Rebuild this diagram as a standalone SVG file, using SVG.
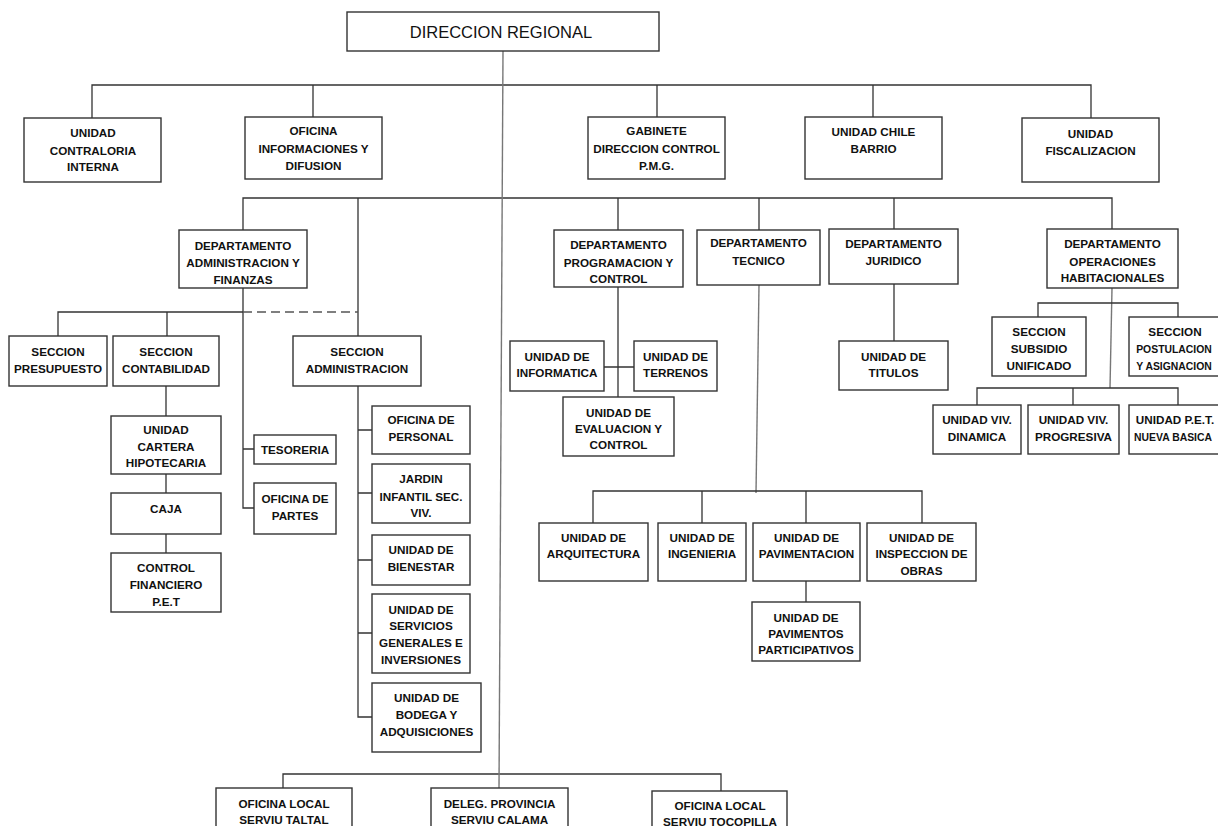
<svg xmlns="http://www.w3.org/2000/svg" width="1218" height="826" viewBox="0 0 1218 826">
<style>
.b{fill:#fff;stroke:#333;stroke-width:1.4}
.t{font-family:"Liberation Sans",Arial,sans-serif;font-weight:bold;font-size:11.7px;text-anchor:middle;fill:#111}
.s{font-size:10.4px}
.h{font-family:"Liberation Sans",Arial,sans-serif;font-size:16.5px;text-anchor:middle;fill:#111}
.c{stroke:#333;stroke-width:1.3;fill:none}
.g{stroke:#777;stroke-width:1.4;fill:none}
.d{stroke:#555;stroke-width:1.5;fill:none;stroke-dasharray:9 5}
</style>
<rect width="1218" height="826" fill="#fff"/>
<g id="connectors">
<path class="c" d="M92 118V85H1091V118M313 85V117M657 85V117M873 85V117"/>
<path class="c" d="M243 230V198H1112V229M358 198V336M618 198V230M759 198V230M894 198V229"/>
<path class="c" d="M243 288V508H254M243 449H254M58 336V312H243M167 312V336"/>
<path class="d" d="M243 312H358"/>
<path class="c" d="M166 386V416M166 474V493M166 534V553"/>
<path class="c" d="M358 386V717H372M358 430H372M358 493H372M358 560H372M358 633H372"/>
<path class="c" d="M618 287V397M604 367H634"/>
<path class="g" d="M759 285L756 493"/>
<path class="c" d="M593 523V491H922V523M702 491V523M806 491V523M806 581V602"/>
<path class="c" d="M894 284V341"/>
<path class="g" d="M1112 288L1110 388"/>
<path class="c" d="M1038 317V303H1178V317M977 405V388H1178V405M1073 388V405"/>
<path class="c" d="M283 788V774H721V791"/>
<path class="g" d="M503 51L499 788"/>
</g>
<g id="n-direccion"><rect class="b" x="347" y="12" width="312" height="39"/><text class="h" x="501" y="38">DIRECCION REGIONAL</text></g>
<g id="n-contraloria"><rect class="b" x="24" y="118" width="137" height="64"/><text class="t"><tspan x="93" y="137">UNIDAD</tspan><tspan x="93" y="155">CONTRALORIA</tspan><tspan x="93" y="171">INTERNA</tspan></text></g>
<g id="n-informaciones"><rect class="b" x="245" y="117" width="137" height="62"/><text class="t"><tspan x="313.5" y="135">OFICINA</tspan><tspan x="313.5" y="153">INFORMACIONES Y</tspan><tspan x="313.5" y="170">DIFUSION</tspan></text></g>
<g id="n-gabinete"><rect class="b" x="588" y="117" width="137" height="62"/><text class="t"><tspan x="656.5" y="135">GABINETE</tspan><tspan x="656.5" y="153">DIRECCION CONTROL</tspan><tspan x="656.5" y="170">P.M.G.</tspan></text></g>
<g id="n-chilebarrio"><rect class="b" x="805" y="117" width="137" height="62"/><text class="t"><tspan x="873.5" y="136">UNIDAD CHILE</tspan><tspan x="873.5" y="153">BARRIO</tspan></text></g>
<g id="n-fiscalizacion"><rect class="b" x="1022" y="118" width="137" height="64"/><text class="t"><tspan x="1090.5" y="138">UNIDAD</tspan><tspan x="1090.5" y="155">FISCALIZACION</tspan></text></g>
<g id="n-dafin"><rect class="b" x="179" y="230" width="128" height="58"/><text class="t"><tspan x="243" y="250">DEPARTAMENTO</tspan><tspan x="243" y="267">ADMINISTRACION Y</tspan><tspan x="243" y="284">FINANZAS</tspan></text></g>
<g id="n-dprog"><rect class="b" x="554" y="230" width="129" height="57"/><text class="t"><tspan x="618.5" y="249">DEPARTAMENTO</tspan><tspan x="618.5" y="267">PROGRAMACION Y</tspan><tspan x="618.5" y="283">CONTROL</tspan></text></g>
<g id="n-dtecnico"><rect class="b" x="697" y="230" width="123" height="55"/><text class="t"><tspan x="758.5" y="247">DEPARTAMENTO</tspan><tspan x="758.5" y="265">TECNICO</tspan></text></g>
<g id="n-djuridico"><rect class="b" x="829" y="229" width="129" height="55"/><text class="t"><tspan x="893.5" y="248">DEPARTAMENTO</tspan><tspan x="893.5" y="265">JURIDICO</tspan></text></g>
<g id="n-doper"><rect class="b" x="1047" y="229" width="131" height="59"/><text class="t"><tspan x="1112.5" y="248">DEPARTAMENTO</tspan><tspan x="1112.5" y="266">OPERACIONES</tspan><tspan x="1112.5" y="282">HABITACIONALES</tspan></text></g>
<g id="n-presupuesto"><rect class="b" x="9" y="336" width="98" height="50"/><text class="t"><tspan x="58" y="356">SECCION</tspan><tspan x="58" y="373">PRESUPUESTO</tspan></text></g>
<g id="n-contabilidad"><rect class="b" x="113" y="336" width="106" height="50"/><text class="t"><tspan x="166" y="356">SECCION</tspan><tspan x="166" y="373">CONTABILIDAD</tspan></text></g>
<g id="n-secadmin"><rect class="b" x="293" y="336" width="128" height="50"/><text class="t"><tspan x="357" y="356">SECCION</tspan><tspan x="357" y="373">ADMINISTRACION</tspan></text></g>
<g id="n-cartera"><rect class="b" x="111" y="416" width="110" height="58"/><text class="t"><tspan x="166" y="434">UNIDAD</tspan><tspan x="166" y="451">CARTERA</tspan><tspan x="166" y="467">HIPOTECARIA</tspan></text></g>
<g id="n-caja"><rect class="b" x="111" y="493" width="110" height="41"/><text class="t" x="166" y="513">CAJA</text></g>
<g id="n-controlfin"><rect class="b" x="111" y="553" width="110" height="59"/><text class="t"><tspan x="166" y="572">CONTROL</tspan><tspan x="166" y="589">FINANCIERO</tspan><tspan x="166" y="606">P.E.T</tspan></text></g>
<g id="n-tesoreria"><rect class="b" x="254" y="435" width="82" height="29"/><text class="t" x="295" y="454">TESORERIA</text></g>
<g id="n-partes"><rect class="b" x="254" y="483" width="82" height="51"/><text class="t"><tspan x="295" y="503">OFICINA DE</tspan><tspan x="295" y="520">PARTES</tspan></text></g>
<g id="n-personal"><rect class="b" x="372" y="406" width="98" height="48"/><text class="t"><tspan x="421" y="424">OFICINA DE</tspan><tspan x="421" y="441">PERSONAL</tspan></text></g>
<g id="n-jardin"><rect class="b" x="372" y="464" width="98" height="59"/><text class="t"><tspan x="421" y="483">JARDIN</tspan><tspan x="421" y="501">INFANTIL SEC.</tspan><tspan x="421" y="517">VIV.</tspan></text></g>
<g id="n-bienestar"><rect class="b" x="372" y="535" width="98" height="50"/><text class="t"><tspan x="421" y="554">UNIDAD DE</tspan><tspan x="421" y="571">BIENESTAR</tspan></text></g>
<g id="n-servicios"><rect class="b" x="372" y="594" width="98" height="79"/><text class="t"><tspan x="421" y="614">UNIDAD DE</tspan><tspan x="421" y="630">SERVICIOS</tspan><tspan x="421" y="647">GENERALES E</tspan><tspan x="421" y="664">INVERSIONES</tspan></text></g>
<g id="n-bodega"><rect class="b" x="372" y="683" width="109" height="69"/><text class="t"><tspan x="426.5" y="702">UNIDAD DE</tspan><tspan x="426.5" y="719">BODEGA Y</tspan><tspan x="426.5" y="736">ADQUISICIONES</tspan></text></g>
<g id="n-informatica"><rect class="b" x="510" y="341" width="94" height="50"/><text class="t"><tspan x="557" y="361">UNIDAD DE</tspan><tspan x="557" y="377">INFORMATICA</tspan></text></g>
<g id="n-terrenos"><rect class="b" x="634" y="341" width="83" height="50"/><text class="t"><tspan x="675.5" y="361">UNIDAD DE</tspan><tspan x="675.5" y="377">TERRENOS</tspan></text></g>
<g id="n-evaluacion"><rect class="b" x="563" y="397" width="111" height="59"/><text class="t"><tspan x="618.5" y="417">UNIDAD DE</tspan><tspan x="618.5" y="433">EVALUACION Y</tspan><tspan x="618.5" y="449">CONTROL</tspan></text></g>
<g id="n-arquitectura"><rect class="b" x="539" y="523" width="109" height="58"/><text class="t"><tspan x="593.5" y="542">UNIDAD DE</tspan><tspan x="593.5" y="558">ARQUITECTURA</tspan></text></g>
<g id="n-ingenieria"><rect class="b" x="658" y="523" width="88" height="58"/><text class="t"><tspan x="702" y="542">UNIDAD DE</tspan><tspan x="702" y="558">INGENIERIA</tspan></text></g>
<g id="n-pavimentacion"><rect class="b" x="753" y="523" width="107" height="58"/><text class="t"><tspan x="806.5" y="542">UNIDAD DE</tspan><tspan x="806.5" y="558">PAVIMENTACION</tspan></text></g>
<g id="n-inspeccion"><rect class="b" x="867" y="523" width="109" height="58"/><text class="t"><tspan x="921.5" y="542">UNIDAD DE</tspan><tspan x="921.5" y="558">INSPECCION DE</tspan><tspan x="921.5" y="575">OBRAS</tspan></text></g>
<g id="n-pavimentos"><rect class="b" x="752" y="602" width="108" height="59"/><text class="t"><tspan x="806" y="622">UNIDAD DE</tspan><tspan x="806" y="638">PAVIMENTOS</tspan><tspan x="806" y="654">PARTICIPATIVOS</tspan></text></g>
<g id="n-titulos"><rect class="b" x="839" y="341" width="109" height="49"/><text class="t"><tspan x="893.5" y="361">UNIDAD DE</tspan><tspan x="893.5" y="377">TITULOS</tspan></text></g>
<g id="n-subsidio"><rect class="b" x="992" y="317" width="94" height="59"/><text class="t"><tspan x="1039" y="336">SECCION</tspan><tspan x="1039" y="353">SUBSIDIO</tspan><tspan x="1039" y="370">UNIFICADO</tspan></text></g>
<g id="n-postulacion"><rect class="b" x="1129" y="317" width="110" height="59"/><text class="t"><tspan x="1175" y="336">SECCION</tspan><tspan class="s" x="1174" y="353">POSTULACION</tspan><tspan class="s" x="1174" y="370">Y ASIGNACION</tspan></text></g>
<g id="n-dinamica"><rect class="b" x="933" y="405" width="88" height="49"/><text class="t"><tspan x="977" y="424">UNIDAD VIV.</tspan><tspan x="977" y="441">DINAMICA</tspan></text></g>
<g id="n-progresiva"><rect class="b" x="1028" y="405" width="91" height="49"/><text class="t"><tspan x="1073.5" y="424">UNIDAD VIV.</tspan><tspan x="1073.5" y="441">PROGRESIVA</tspan></text></g>
<g id="n-nuevabasica"><rect class="b" x="1129" y="405" width="110" height="49"/><text class="t"><tspan x="1175" y="424">UNIDAD P.E.T.</tspan><tspan class="s" x="1173" y="441">NUEVA BASICA</tspan></text></g>
<g id="n-taltal"><rect class="b" x="216" y="788" width="136" height="50"/><text class="t"><tspan x="284" y="808">OFICINA LOCAL</tspan><tspan x="284" y="824">SERVIU TALTAL</tspan></text></g>
<g id="n-calama"><rect class="b" x="431" y="788" width="137" height="50"/><text class="t"><tspan x="499.5" y="808">DELEG. PROVINCIA</tspan><tspan x="499.5" y="824">SERVIU CALAMA</tspan></text></g>
<g id="n-tocopilla"><rect class="b" x="652" y="791" width="135" height="50"/><text class="t"><tspan x="720" y="810">OFICINA LOCAL</tspan><tspan x="720" y="826">SERVIU TOCOPILLA</tspan></text></g>
</svg>
